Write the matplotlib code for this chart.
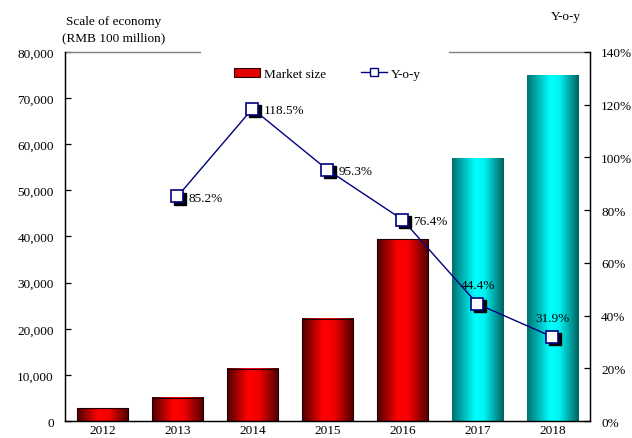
import matplotlib
matplotlib.use('Agg')
import matplotlib.pyplot as plt
import matplotlib.transforms as mtransforms
from matplotlib.patches import Patch
from matplotlib.lines import Line2D
from matplotlib.colors import LinearSegmentedColormap
import numpy as np

plt.rcParams['font.family'] = ['Liberation Serif', 'DejaVu Serif']

# data
years = ['2012', '2013', '2014', '2015', '2016', '2017', '2018']
market_size = [2760, 5070, 11300, 22200, 39350, 57000, 75000]
yoy_years = ['2013', '2014', '2015', '2016', '2017', '2018']
yoy = [85.2, 118.5, 95.3, 76.4, 44.4, 31.9]
yoy_labels = ['85.2%', '118.5%', '95.3%', '76.4%', '44.4%', '31.9%']
forecast = [False, False, False, False, False, True, True]

red_cmap = LinearSegmentedColormap.from_list('redbar', [(0, '#4a0000'), (0.4, '#ff0000'), (0.62, '#f20000'), (1, '#4a0000')])
cyan_cmap = LinearSegmentedColormap.from_list('cyanbar', [(0, '#007070'), (0.45, '#00ffff'), (0.62, '#00f4f4'), (1, '#006060')])

fig = plt.figure(figsize=(6.32, 4.39), dpi=100)
ax = fig.add_axes([0.1028, 0.0387, 0.8307, 0.8406])
ax2 = ax.twinx()

x = np.arange(len(years))
bars = ax.bar(x, market_size, width=0.68, facecolor='none', edgecolor='none', zorder=2)
grad = np.linspace(0, 1, 256).reshape(1, -1)
for b, fc in zip(bars, forecast):
    x0, y0 = b.get_x(), b.get_y()
    w, h = b.get_width(), b.get_height()
    cm = cyan_cmap if fc else red_cmap
    ax.imshow(grad, cmap=cm, extent=[x0, x0 + w, y0, y0 + h], aspect='auto', zorder=2, interpolation='bicubic')
    if not fc:
        ax.add_patch(plt.Rectangle((x0, y0), w, h, fill=False, edgecolor='#200000', linewidth=0.8, zorder=3))

ax.set_xlim(-0.5, len(years) - 0.5)
ax.set_ylim(0, 80000)
ax.set_yticks(np.arange(0, 80001, 10000))
ax.set_yticklabels(['{:,}'.format(v) for v in range(0, 80001, 10000)])
ax.set_xticks(x)
ax.set_xticklabels(years)

yx = [years.index(y) for y in yoy_years]
ax2.set_ylim(0, 140)
ax2.set_yticks(np.arange(0, 141, 20))
ax2.set_yticklabels(['%d%%' % v for v in range(0, 141, 20)])

shadow = mtransforms.offset_copy(ax2.transData, fig=fig, x=2.5, y=-2.5, units='dots')
ax2.plot(yx, yoy, linestyle='none', marker='s', markersize=9, color='black', transform=shadow, zorder=3)
ax2.plot(yx, yoy, color='#000080', linewidth=1, marker='s', markersize=9,
         markerfacecolor='white', markeredgecolor='#000080', markeredgewidth=1.2, zorder=4)

for xi, v, lab in zip(yx, yoy, yoy_labels):
    if v > 60:
        ax2.annotate(lab, (xi, v), xytext=(8, -1), textcoords='offset points', ha='left', va='center', fontsize=9.5)
    else:
        ax2.annotate(lab, (xi, v), xytext=(0, 9), textcoords='offset points', ha='center', va='bottom', fontsize=9.5)

for a in (ax, ax2):
    a.spines['top'].set_visible(False)
    for s in ('left', 'right', 'bottom'):
        a.spines[s].set_linewidth(0.9)
    a.tick_params(axis='y', direction='in', length=4, width=0.9, labelsize=9.5)
ax.tick_params(axis='x', length=0, labelsize=9.5, pad=2)
ax.tick_params(axis='y', pad=8)
ax2.tick_params(axis='y', pad=8)

# broken top frame line around the legend
ax.plot([0, 0.258], [1, 1], color='#808080', linewidth=1, transform=ax.transAxes, clip_on=False)
ax.plot([0.731, 1], [1, 1], color='#808080', linewidth=1, transform=ax.transAxes, clip_on=False)

handles = [Patch(facecolor='#e00000', edgecolor='#300000', linewidth=0.8),
           Line2D([], [], color='#000080', linewidth=1, marker='s', markersize=6,
                  markerfacecolor='white', markeredgecolor='#000080')]
ax2.legend(handles, ['Market size', 'Y-o-y'], loc='upper center', bbox_to_anchor=(0.5, 0.99),
           ncol=2, frameon=False, fontsize=9.5, handlelength=2.0, handletextpad=0.3, columnspacing=2.6)

fig.text(0.179, 0.95, 'Scale of economy', ha='center', va='center', fontsize=9.5)
fig.text(0.179, 0.912, '(RMB 100 million)', ha='center', va='center', fontsize=9.5)
fig.text(0.895, 0.962, 'Y-o-y', ha='center', va='center', fontsize=9.5)

fig.savefig('out.png', dpi=100)
